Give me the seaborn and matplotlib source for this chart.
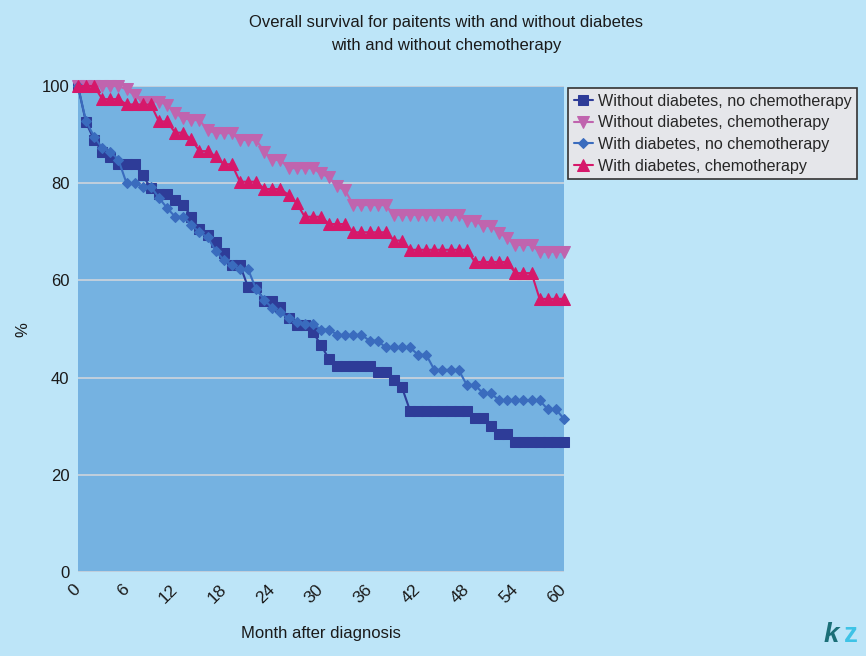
"""
Overall survival for patients with and without diabetes,
with and without chemotherapy (Excel-style line chart recreated with seaborn).
"""

import matplotlib
matplotlib.use("Agg")
import matplotlib.pyplot as plt
import seaborn as sns

# ----------------------------------------------------------------------
# Data
# ----------------------------------------------------------------------
months = list(range(0, 61))

no_diab_no_chemo = [
    100, 92.5, 88.9, 86.5, 85.3, 84.0, 84.0, 84.0, 81.6, 79.0,
    77.8, 77.8, 76.5, 75.5, 73.1, 70.5, 69.3, 68.0, 65.7, 63.2,
    63.2, 58.6, 58.6, 55.8, 55.8, 54.6, 52.2, 50.8, 50.8, 49.4,
    46.7, 43.8, 42.4, 42.4, 42.4, 42.4, 42.4, 41.2, 41.2, 39.5,
    38.0, 33.2, 33.2, 33.2, 33.2, 33.2, 33.2, 33.2, 33.2, 31.6,
    31.6, 30.0, 28.4, 28.4, 26.8, 26.8, 26.8, 26.8, 26.8, 26.8,
    26.8,
]

no_diab_chemo = [
    100, 100, 100, 100, 100, 100, 99.3, 98.1, 96.8, 96.8,
    96.8, 96.1, 94.4, 93.4, 93.0, 93.0, 90.9, 90.3, 90.3, 90.3,
    88.9, 88.9, 88.9, 86.5, 84.8, 84.8, 83.1, 83.1, 83.1, 83.1,
    82.0, 81.2, 79.4, 78.5, 75.5, 75.5, 75.5, 75.5, 75.5, 73.5,
    73.5, 73.5, 73.5, 73.5, 73.5, 73.5, 73.5, 73.5, 72.3, 72.3,
    71.2, 71.2, 69.8, 68.7, 67.3, 67.3, 67.3, 65.9, 65.9, 65.9,
    65.9,
]

diab_no_chemo = [
    100, 92.7, 89.6, 87.2, 86.5, 84.8, 80.0, 80.0, 79.3, 79.3,
    77.0, 74.9, 73.1, 73.1, 71.4, 69.9, 68.9, 66.1, 64.2, 63.2,
    62.3, 62.3, 58.2, 56.0, 54.3, 53.4, 52.2, 51.5, 51.0, 51.0,
    49.9, 49.9, 48.8, 48.8, 48.8, 48.8, 47.6, 47.6, 46.2, 46.2,
    46.2, 46.2, 44.7, 44.7, 41.6, 41.6, 41.6, 41.6, 38.5, 38.5,
    36.8, 36.8, 35.3, 35.3, 35.3, 35.3, 35.3, 35.3, 33.5, 33.5,
    31.5,
]

diab_chemo = [
    100, 100, 100, 97.3, 97.3, 97.3, 96.2, 96.2, 96.2, 96.2,
    92.7, 92.7, 90.4, 90.4, 89.0, 86.6, 86.6, 85.5, 83.9, 83.9,
    80.3, 80.3, 80.3, 78.8, 78.8, 78.8, 77.6, 75.9, 73.1, 73.1,
    73.1, 71.6, 71.6, 71.6, 69.9, 69.9, 69.9, 69.9, 69.9, 68.2,
    68.2, 66.3, 66.3, 66.3, 66.3, 66.3, 66.3, 66.3, 66.3, 63.8,
    63.8, 63.8, 63.8, 63.8, 61.5, 61.5, 61.5, 56.2, 56.2, 56.2,
    56.2,
]

labels = [
    "Without diabetes, no chemotherapy",
    "Without diabetes, chemotherapy",
    "With diabetes, no chemotherapy",
    "With diabetes, chemotherapy",
]
x_ticks = [0, 6, 12, 18, 24, 30, 36, 42, 48, 54, 60]
y_ticks = [0, 20, 40, 60, 80, 100]

# ----------------------------------------------------------------------
# Styling
# ----------------------------------------------------------------------
FIG_BG = "#bde5f8"
PLOT_BG = "#75b2e1"
GRID = "#c7d2dc"
TEXT = "#1a1a1a"

series_style = [
    dict(color="#2e3c98", marker="s", ms=7.0),
    dict(color="#c064ae", marker="v", ms=8.0),
    dict(color="#3a6cbe", marker="D", ms=5.0),
    dict(color="#d6186a", marker="^", ms=8.0),
]

sns.set_style("white")
plt.rcParams["font.family"] = ["Liberation Sans", "DejaVu Sans"]
plt.rcParams["font.size"] = 12

fig = plt.figure(figsize=(8.66, 6.56), dpi=100, facecolor=FIG_BG)
ax = fig.add_axes([0.090, 0.128, 0.5612, 0.7409])
ax.set_facecolor(PLOT_BG)

for vals, lab, st in zip(
    [no_diab_no_chemo, no_diab_chemo, diab_no_chemo, diab_chemo], labels, series_style
):
    sns.lineplot(x=months, y=vals, ax=ax, label=lab, color=st["color"],
                 marker=st["marker"], markersize=st["ms"],
                 markeredgecolor=st["color"], linewidth=1.5, clip_on=False,
                 zorder=3)

ax.set_xlim(0, 60)
ax.set_ylim(0, 100)
ax.set_xticks(x_ticks)
ax.set_yticks(y_ticks)
ax.set_xticklabels([str(t) for t in x_ticks], rotation=45, ha="right",
                   va="center", rotation_mode="anchor", fontsize=12.5,
                   color=TEXT)
ax.set_yticklabels([str(t) for t in y_ticks], fontsize=12, color=TEXT)
ax.tick_params(axis="both", length=0, pad=6)
ax.tick_params(axis="x", pad=11)
ax.yaxis.grid(True, color=GRID, linewidth=1.3)
ax.xaxis.grid(False)
ax.set_axisbelow(True)
for s in ax.spines.values():
    s.set_visible(False)

ax.set_xlabel("")
ax.set_ylabel("")
fig.text(0.371, 0.035, "Month after diagnosis", ha="center", va="center",
         fontsize=12, color=TEXT)
fig.text(0.026, 0.497, "%", ha="center", va="center", rotation=90,
         fontsize=12, color=TEXT)

fig.text(0.515, 0.965, "Overall survival for paitents with and without diabetes",
         ha="center", va="center", fontsize=12, color=TEXT)
fig.text(0.515, 0.930, "with and without chemotherapy",
         ha="center", va="center", fontsize=12, color=TEXT)

leg = ax.legend(loc="upper left", bbox_to_anchor=(0.656, 0.866),
                bbox_transform=fig.transFigure, frameon=True, fancybox=False,
                fontsize=11.6, handlelength=1.2, handletextpad=0.3,
                borderpad=0.35, labelspacing=0.42, borderaxespad=0)
leg.get_frame().set_facecolor("#e5e6ea")
leg.get_frame().set_edgecolor("#333333")
leg.get_frame().set_linewidth(1.2)
leg.get_frame().set_alpha(1)

# small logo in the corner
fig.text(0.951, 0.032, "k", fontsize=20, fontweight="bold", style="italic",
         color="#1b6f78", ha="left", va="center")
fig.text(0.975, 0.032, "z", fontsize=20, fontweight="bold",
         color="#3ec3e6", ha="left", va="center")

fig.savefig("out.png", dpi=100, facecolor=FIG_BG)
